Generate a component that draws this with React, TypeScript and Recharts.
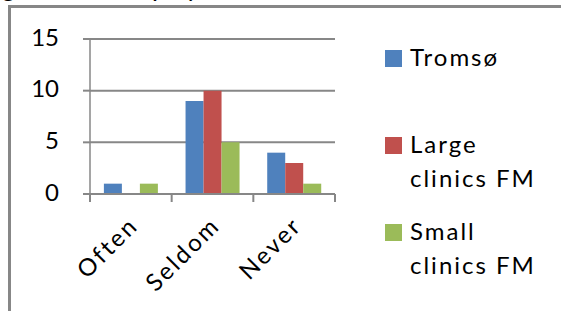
import React from 'react';
import { BarChart, Bar, XAxis, YAxis, CartesianGrid, Legend } from 'recharts';

const categories = ['Often', 'Seldom', 'Never'];
const tromso = [1, 9, 4];
const largeClinics = [0, 10, 3];
const smallClinics = [1, 5, 1];
const yTicks = [0, 5, 10, 15];
const seriesNames = ['Tromsø', 'Large clinics FM', 'Small clinics FM'];

const FONT = 'Lato, "Noto Sans", sans-serif';
const GRID = '#878787';
const BAND = 245 / 3;

const data = categories.map((name, i) => ({
  name,
  tromso: tromso[i],
  large: largeClinics[i],
  small: smallClinics[i],
}));

function XTick(props: any) {
  const { x, y, payload, index, visibleTicksCount } = props;
  const half = payload?.offset || BAND / 2;
  const ax = x + 9;
  const ay = y + 33;
  return (
    <g>
      <line x1={x - half} x2={x - half} y1={y} y2={y + 8} stroke={GRID} strokeWidth={2} />
      {index === visibleTicksCount - 1 && (
        <line x1={x + half} x2={x + half} y1={y} y2={y + 8} stroke={GRID} strokeWidth={2} />
      )}
      <text
        x={ax}
        y={ay}
        textAnchor="end"
        transform={`rotate(-45 ${ax} ${ay})`}
        fill="#000"
        fontSize={24}
        fontFamily={FONT}
        letterSpacing={2.5}
      >
        {payload.value}
      </text>
    </g>
  );
}

function YTick(props: any) {
  const { x, y, payload } = props;
  return (
    <text x={x} y={y - 2} dy="0.355em" textAnchor="end" fill="#000" fontSize={24} fontFamily={FONT}>
      {payload.value}
    </text>
  );
}

function LegendBox(props: any) {
  const items = [...(props.payload || [])].sort(
    (a: any, b: any) => seriesNames.indexOf(a.value) - seriesNames.indexOf(b.value)
  );
  return (
    <div style={{ fontFamily: FONT, fontSize: 24, letterSpacing: 2, lineHeight: '34px', color: '#000' }}>
      {items.map((e: any, i: number) => (
        <div key={i} style={{ position: 'relative', height: 87, paddingLeft: 25 }}>
          <span style={{ position: 'absolute', left: 0, top: 10, width: 17, height: 17, background: e.color }} />
          <div style={{ width: 140 }}>{e.value}</div>
        </div>
      ))}
    </div>
  );
}

export default function App() {
  return (
    <div style={{ position: 'fixed', left: 0, top: 0, width: 561, height: 311, overflow: 'hidden', background: '#fff' }}>
      <div style={{ position: 'absolute', left: 0, top: -30, fontFamily: FONT, fontSize: 26, whiteSpace: 'pre', color: '#000' }}>
        <span style={{ position: 'absolute', left: 2 }}>g</span>
        <span style={{ position: 'absolute', left: 152 }}>p</span>
        <span style={{ position: 'absolute', left: 186 }}>y</span>
        <span style={{ position: 'absolute', left: 224 }}>,</span>
      </div>
      <div style={{ position: 'absolute', left: 8, top: 5, width: 600, height: 400, border: `3px solid ${GRID}` }} />
      <div style={{ position: 'absolute', left: 0, top: 0 }}>
        <BarChart
          width={561}
          height={311}
          data={data}
          margin={{ top: 39, right: 226, bottom: 0, left: 0 }}
          barCategoryGap="17%"
          barGap={0}
        >
          <CartesianGrid vertical={false} stroke={GRID} strokeWidth={2} />
          <XAxis
            dataKey="name"
            height={117}
            tickSize={0}
            tickMargin={0}
            tickLine={false}
            axisLine={{ stroke: GRID, strokeWidth: 2 }}
            tick={<XTick />}
            interval={0}
          />
          <YAxis
            width={90}
            domain={[0, 15]}
            ticks={yTicks}
            tickSize={7}
            tickMargin={24}
            axisLine={{ stroke: GRID, strokeWidth: 1.5 }}
            tickLine={{ stroke: GRID, strokeWidth: 2 }}
            tick={<YTick />}
            interval={0}
          />
          <Legend
            layout="horizontal"
            verticalAlign="middle"
            align="center"
            wrapperStyle={{ top: 40, left: 385, width: 176 }}
            content={<LegendBox />}
          />
          <Bar dataKey="tromso" name={seriesNames[0]} fill="#4F81BD" isAnimationActive={false} />
          <Bar dataKey="large" name={seriesNames[1]} fill="#C0504D" isAnimationActive={false} />
          <Bar dataKey="small" name={seriesNames[2]} fill="#9BBB59" isAnimationActive={false} />
        </BarChart>
      </div>
    </div>
  );
}
